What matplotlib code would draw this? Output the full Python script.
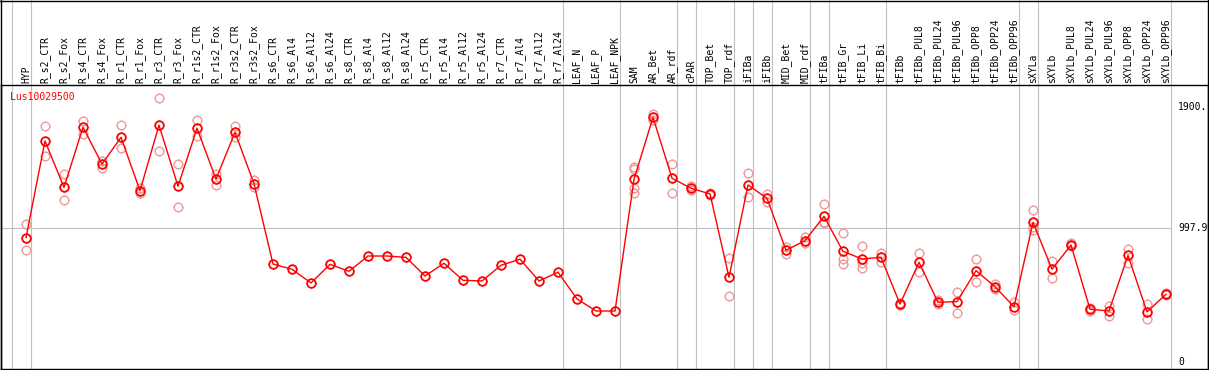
import matplotlib
matplotlib.use("Agg")
import matplotlib.pyplot as plt
from matplotlib.path import Path
from matplotlib.lines import Line2D

categories = ["HYP", "R_s2_CTR", "R_s2_Fox", "R_s4_CTR", "R_s4_Fox", "R_r1_CTR", "R_r1_Fox",
              "R_r3_CTR", "R_r3_Fox", "R_r1s2_CTR", "R_r1s2_Fox", "R_r3s2_CTR", "R_r3s2_Fox",
              "R_s6_CTR", "R_s6_Al4", "R_s6_Al12", "R_s6_Al24", "R_s8_CTR", "R_s8_Al4",
              "R_s8_Al12", "R_s8_Al24", "R_r5_CTR", "R_r5_Al4", "R_r5_Al12", "R_r5_Al24",
              "R_r7_CTR", "R_r7_Al4", "R_r7_Al12", "R_r7_Al24", "LEAF_N", "LEAF_P", "LEAF_NPK",
              "SAM", "AR_Bet", "AR_rdf", "cPAR", "TOP_Bet", "TOP_rdf", "iFIBa", "iFIBb",
              "MID_Bet", "MID_rdf", "tFIBa", "tFIB_Gr", "tFIB_Li", "tFIB_Bi", "tFIBb",
              "tFIBb_PUL8", "tFIBb_PUL24", "tFIBb_PUL96", "tFIBb_OPP8", "tFIBb_OPP24",
              "tFIBb_OPP96", "sXYLa", "sXYLb", "sXYLb_PUL8", "sXYLb_PUL24", "sXYLb_PUL96",
              "sXYLb_OPP8", "sXYLb_OPP24", "sXYLb_OPP96"]

means = [928, 1649, 1303, 1751, 1477, 1676, 1278, 1766, 1311, 1743, 1365, 1713, 1330,
         731, 692, 590, 729, 677, 791, 791, 781, 642, 737, 610, 605, 722, 767, 605, 670,
         471, 381, 381, 1363, 1825, 1371, 1296, 1254, 632, 1321, 1221, 834, 905, 1087,
         826, 769, 781, 433, 744, 446, 451, 682, 562, 413, 1042, 692, 873, 394, 381,
         796, 374, 506]

replicates = [
    [1030, 834], [1761, 1535], [1403, 1207], [1798, 1701], [1502, 1445], [1766, 1594],
    [1296, 1263], [1967, 1572], [1475, 1157], [1805, 1688], [1405, 1323], [1758, 1676],
    [1358, 1308],
    [], [], [], [], [], [], [], [], [], [], [], [], [], [], [], [], [], [], [],
    [1457, 1440, 1300, 1263], [1850, 1805], [1477, 1263], [1310, 1283], [1262, 1245],
    [774, 493], [1412, 1233], [1256, 1196], [856, 808], [931, 886], [1177, 1045, 1040],
    [965, 767, 729], [866, 737, 699], [811, 746], [440, 426], [811, 670], [463, 430],
    [521, 366], [769, 595], [580, 545], [450, 389], [1132, 1010, 985], [756, 625],
    [885, 862], [405, 383], [421, 344], [843, 737], [433, 321], [513, 500],
]

group_ends = [-1, 0, 28, 31, 34, 35, 37, 38, 39, 41, 42, 45, 52, 53, 60]
gene_name = "Lus10029500"
ytick_vals = [1900, 997.9, 0]
ytick_labels = ["1900.", "997.9", "0"]

W, H = 1209, 370
fig = plt.figure(figsize=(W / 100, H / 100), dpi=100)
fig.patch.set_facecolor("white")

ax_bottom_px, ax_top_px = 368.5, 85.0
ax = fig.add_axes([1 / W, (H - ax_bottom_px) / H, 1207 / W, (ax_bottom_px - ax_top_px) / H])
ax.set_xlim(-1.316, 62.21)
ax.set_ylim(-47.7, 2066)
ax.set_xticks([])
ax.set_yticks([])
for s in ax.spines.values():
    s.set_color("black")
    s.set_linewidth(1.0)

# marker ticks (short strokes outside the circle)
T = 1.25
tick_path = Path([[0, 1], [0, T], [0, -1], [0, -T], [1, 0], [T, 0], [-1, 0], [-T, 0]],
                 [Path.MOVETO, Path.LINETO] * 4)
circ_ms = 6.2
tick_ms = circ_ms * T

ax_h_px = ax_bottom_px - ax_top_px
top_ext = 1 + ax_top_px / ax_h_px
x_right_inner = 60.26
for g in group_ends:
    ax.axvline(g + 0.24, ymin=0, ymax=top_ext, color="#c0c0c0", lw=0.8, clip_on=False, zorder=1)

ax.plot([-1.316, x_right_inner], [997.9, 997.9], color="#c0c0c0", lw=0.8, zorder=1)


def draw_markers(x, y, color, mew, z):
    ax.plot(x, y, linestyle="none", marker="o", markersize=circ_ms, markerfacecolor="none",
            markeredgecolor=color, markeredgewidth=mew, zorder=z)
    ax.plot(x, y, linestyle="none", marker=tick_path, markersize=tick_ms,
            markerfacecolor="none", markeredgecolor=color, markeredgewidth=0.9, zorder=z)


xs = list(range(len(categories)))
for i, reps in enumerate(replicates):
    if reps:
        draw_markers([i] * len(reps), reps, "#ef9a9a", 1.0, 2)

ax.plot(xs, means, color="#ff0000", lw=1.0, zorder=3)
draw_markers(xs, means, "#ff0000", 1.3, 4)

lab_y = 1 + 2 / ax_h_px
for i, c in enumerate(categories):
    ax.text(i, lab_y, c, rotation=90, ha="center", va="bottom", fontsize=7,
            family="DejaVu Sans Mono", transform=ax.get_xaxis_transform(), clip_on=False)

ax.text(-0.85, 1 - 12 / ax_h_px, gene_name, color="#ff0000", fontsize=7,
        family="DejaVu Sans Mono", ha="left", va="center", transform=ax.get_xaxis_transform())

for v, l in zip(ytick_vals, ytick_labels):
    ax.text(60.63, v, l, fontsize=7, family="DejaVu Sans Mono", ha="left", va="center")

# outer frame
fig.add_artist(Line2D([0, 1], [1 - 0.5 / H, 1 - 0.5 / H], transform=fig.transFigure, color="black", lw=1.0))
fig.add_artist(Line2D([1 / W, 1 / W], [0, 1], transform=fig.transFigure, color="black", lw=1.0))
fig.add_artist(Line2D([1 - 1.5 / W, 1 - 1.5 / W], [0, 1], transform=fig.transFigure, color="black", lw=1.0))

fig.savefig("out.png", dpi=100)
